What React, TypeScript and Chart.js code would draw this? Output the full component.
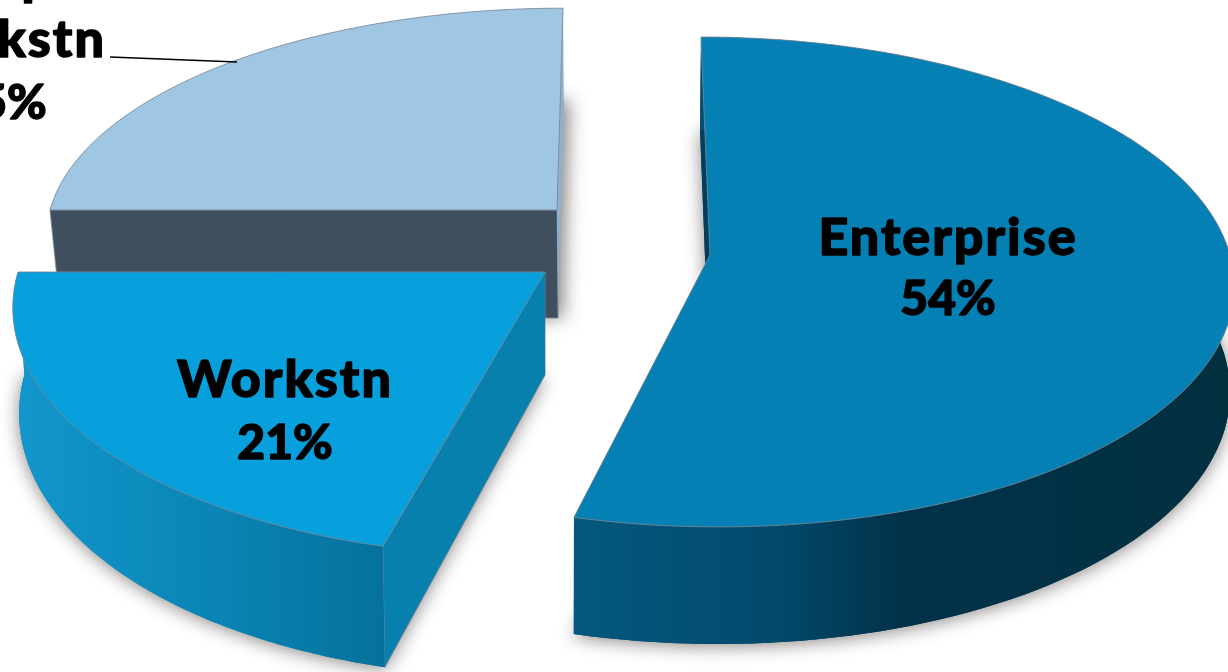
import React, { useEffect, useRef } from "react";
import { Chart, registerables } from "chart.js";

Chart.register(...registerables);

// Share of the market by segment, clockwise from twelve o'clock.
const segments = ["Enterprise", "Workstn", "Compute Workstn"];
const shares = [54, 21, 25];

const topColors = ["#0480b4", "#08a0dc", "#9fc6e2"];
const rimStops = [
  [[0, "#04587f"], [0.3, "#024a6c"], [0.5, "#01324a"], [1, "#02303f"]],
  [[0, "#1296cb"], [0.5, "#0a86b6"], [1, "#05719c"]],
];
const sideColors = ["#023f5c", "#0880ae", "#404f5e"];
const EDGE = "rgba(120,135,150,0.85)";

// Projection of each exploded wedge onto the page.
const wedgeViews = [
  { cx: 710, cy: 255, rx: 520, ry: 242, skew: 9, depth: 105, flare: 0.115, shift: -1, shrink: 0.006 },
  { cx: 545, cy: 272, rx: 527, ry: 253, skew: -16, depth: 103, flare: 0.18, shift: 0, shrink: 0.012 },
  { cx: 557, cy: 210, rx: 507, ry: 224, skew: -6, depth: 108, flare: 0.15, shift: 1, shrink: 0.02 },
];
const PERSPECTIVE = 0.11;

type View = (typeof wedgeViews)[number];
type Pt = [number, number];

function project(view: View, angle: number, radius: number, low: boolean): Pt {
  const u = Math.cos(angle) * radius;
  const v = Math.sin(angle) * radius;
  const k = 1 / (1 - PERSPECTIVE * v);
  const x = view.cx + view.rx * u * k + view.skew * v;
  const y = view.cy + view.ry * v * k;
  if (!low) return [x, y];
  return [x + view.shift - view.shrink * (x - view.cx), y + view.depth * (1 + view.flare * v)];
}

function rim(view: View, start: number, end: number, low: boolean): Pt[] {
  const pts: Pt[] = [];
  const steps = 120;
  for (let i = 0; i <= steps; i++) {
    pts.push(project(view, start + ((end - start) * i) / steps, 1, low));
  }
  return pts;
}

function fillPoly(ctx: CanvasRenderingContext2D, pts: Pt[], fill: string | CanvasGradient, stroke?: string) {
  ctx.beginPath();
  pts.forEach(([x, y], i) => (i ? ctx.lineTo(x, y) : ctx.moveTo(x, y)));
  ctx.closePath();
  ctx.fillStyle = fill;
  ctx.fill();
  if (stroke) {
    ctx.strokeStyle = stroke;
    ctx.lineWidth = 1;
    ctx.stroke();
  }
}

function drawWedge(ctx: CanvasRenderingContext2D, index: number, start: number, end: number) {
  const view = wedgeViews[index];
  const apexTop = project(view, 0, 0, false);
  const apexLow = project(view, 0, 0, true);
  const topRim = rim(view, start, end, false);
  const lowRim = rim(view, start, end, true);

  // soft shadow cast by the underside
  ctx.save();
  ctx.shadowColor = "rgba(90,80,80,0.7)";
  ctx.shadowBlur = 18;
  ctx.shadowOffsetX = index === 2 ? 5 : 0;
  ctx.shadowOffsetY = index === 2 ? 0 : 2;
  fillPoly(ctx, [apexLow, ...lowRim], index === 2 ? "#9aa0a6" : sideColors[index]);
  ctx.restore();

  // cut faces
  const firstTop = topRim[0];
  const firstLow = lowRim[0];
  const lastTop = topRim[topRim.length - 1];
  const lastLow = lowRim[lowRim.length - 1];
  if (index === 2) {
    // the back wedge runs from nine o'clock to twelve: a dark front cut and a pale sliver
    fillPoly(ctx, [firstTop, apexTop, apexLow, firstLow], sideColors[index], EDGE);
    const g = ctx.createLinearGradient(0, lastTop[1], 0, apexLow[1]);
    g.addColorStop(0, "#8fb4d4");
    g.addColorStop(0.7, "#8fb0cc");
    g.addColorStop(1, "#9aa0a6");
    fillPoly(ctx, [lastTop, apexTop, apexLow, lastLow], g);
  } else {
    fillPoly(ctx, [firstTop, apexTop, apexLow, firstLow], sideColors[index], index === 1 ? EDGE : undefined);
    fillPoly(ctx, [lastTop, apexTop, apexLow, lastLow], sideColors[index]);

    // outer rim, only the two front wedges show theirs
    const xs = lowRim.map((p) => p[0]);
    const minX = Math.min(...xs);
    const maxX = Math.max(...xs);
    const grad = ctx.createLinearGradient(minX, 0, maxX, 0);
    rimStops[index].forEach(([o, c]) => grad.addColorStop(o as number, c as string));
    fillPoly(ctx, [...topRim, ...lowRim.slice().reverse()], grad);
  }

  // top face
  fillPoly(ctx, [apexTop, ...topRim], topColors[index], EDGE);
}

function heavyText(ctx: CanvasRenderingContext2D, text: string, x: number, y: number, isWord: boolean) {
  ctx.font = isWord ? '900 52px Lato, "Open Sans", sans-serif' : '900 48px Lato, "Open Sans", sans-serif';
  (ctx as any).letterSpacing = isWord ? "2px" : "0px";
  ctx.lineWidth = 1.4;
  ctx.strokeStyle = "#000";
  ctx.lineJoin = "round";
  ctx.strokeText(text, x, y);
  ctx.fillText(text, x, y);
}

const piePerspective = {
  id: "piePerspective",
  beforeDatasetsDraw: () => false,
  afterDraw(chart: Chart) {
    const ctx = chart.ctx;
    const arcs = chart.getDatasetMeta(0).data as any[];
    ctx.save();
    [2, 0, 1].forEach((i) => drawWedge(ctx, i, arcs[i].startAngle, arcs[i].endAngle));

    // callout from the third wedge to its label
    ctx.beginPath();
    ctx.moveTo(110, 57);
    ctx.lineTo(237, 62);
    ctx.strokeStyle = "#000";
    ctx.lineWidth = 1.6;
    ctx.stroke();

    ctx.fillStyle = "#000";
    ctx.textAlign = "center";
    ctx.textBaseline = "alphabetic";
    heavyText(ctx, segments[0], 948, 255, true);
    heavyText(ctx, `${shares[0]}%`, 948, 315, false);
    heavyText(ctx, segments[1], 285, 397, true);
    heavyText(ctx, `${shares[1]}%`, 285, 459, false);
    const [first, second] = segments[2].split(" ");
    heavyText(ctx, first, 22, -6, true);
    heavyText(ctx, second, -2, 57, true);
    heavyText(ctx, `${shares[2]}%`, -1, 119, false);
    ctx.restore();
  },
};

export default function App() {
  const ref = useRef<HTMLCanvasElement>(null);

  useEffect(() => {
    const chart = new Chart(ref.current!, {
      type: "pie",
      data: {
        labels: segments,
        datasets: [{ data: shares, backgroundColor: topColors }],
      },
      options: {
        responsive: false,
        animation: false,
        rotation: 0,
        plugins: { legend: { display: false }, tooltip: { enabled: false } },
      },
      plugins: [piePerspective],
    });
    return () => chart.destroy();
  }, []);

  return (
    <div style={{ position: "fixed", left: 0, top: 0, width: 1228, height: 672, background: "#fff" }}>
      <canvas ref={ref} width={1228} height={672} style={{ display: "block" }} />
    </div>
  );
}
